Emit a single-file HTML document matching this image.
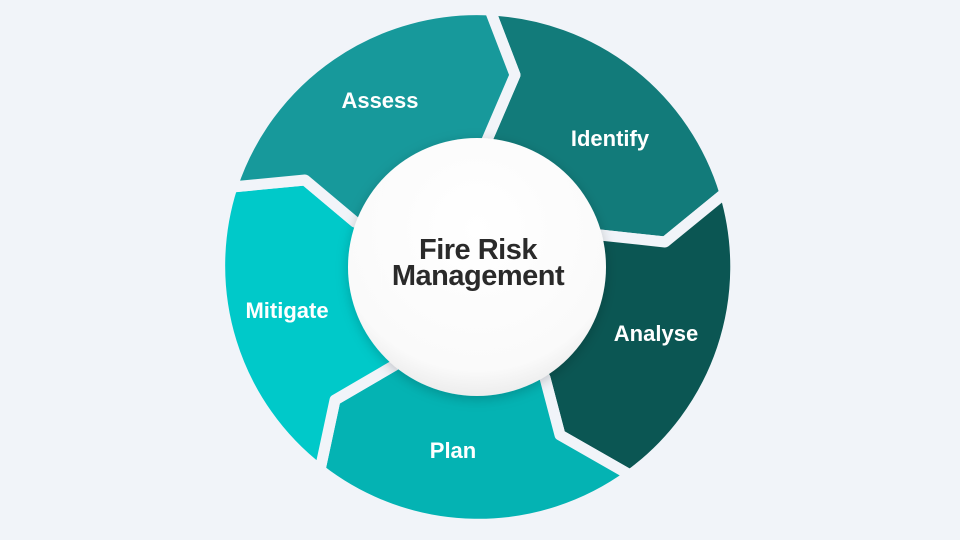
<!DOCTYPE html>
<html><head><meta charset="utf-8"><style>
html,body{margin:0;padding:0;background:#f1f4f9;}
svg{display:block;}
text{font-family:"Liberation Sans",sans-serif;font-weight:bold;}
</style></head><body>
<svg width="960" height="540" viewBox="0 0 960 540">
<defs>
<filter id="sh" x="-30%" y="-30%" width="160%" height="160%">
<feDropShadow dx="0" dy="3" stdDeviation="6" flood-color="#000" flood-opacity="0.2"/>
</filter>
<radialGradient id="g" cx="50%" cy="35%" r="65%">
<stop offset="0" stop-color="#ffffff"/><stop offset="0.85" stop-color="#fafafa"/><stop offset="1" stop-color="#ededed"/>
</radialGradient>
</defs>
<g stroke="#f1f4f9" stroke-width="11" stroke-linejoin="round">
<path fill="#127b7a" d="M490,10 A258,258 0 0 1 725,193 L665,242 L600,235 L478,268 L487,140 L515,75 Z"/>
<path fill="#0b5653" d="M725,193 A258,258 0 0 1 630,475 L560,435 L545,378 L478,268 L600,235 L665,242 Z"/>
<path fill="#04b3b3" d="M630,475 A258,258 0 0 1 320,470 L335,400 L395,365 L478,268 L545,378 L560,435 Z"/>
<path fill="#00c9c9" d="M320,470 A258,258 0 0 1 232,187 L305,180 L355,222 L478,268 L395,365 L335,400 Z"/>
<path fill="#17999b" d="M232,187 A258,258 0 0 1 490,10 L515,75 L487,140 L478,268 L355,222 L305,180 Z"/>
</g>
<circle cx="477" cy="267" r="129" fill="url(#g)" filter="url(#sh)"/>
<g fill="#fff" font-size="22" text-anchor="middle">
<text x="380" y="108">Assess</text>
<text x="610" y="146">Identify</text>
<text x="656" y="341">Analyse</text>
<text x="453" y="458">Plan</text>
<text x="287" y="318">Mitigate</text>
</g>
<g fill="#2a2a2a" font-size="29" text-anchor="middle" letter-spacing="-0.5">
<text x="478" y="259">Fire Risk</text>
<text x="478" y="285">Management</text>
</g>
</svg>
</body></html>
